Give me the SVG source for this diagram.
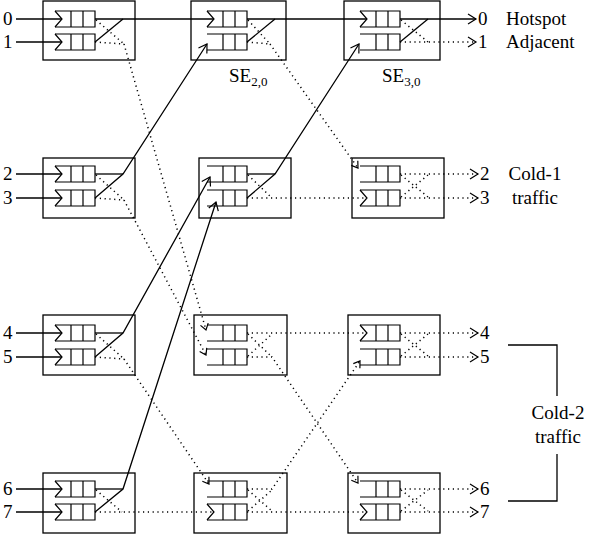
<svg xmlns="http://www.w3.org/2000/svg" xmlns:xlink="http://www.w3.org/1999/xlink" width="598" height="535" viewBox="0 0 598 535">
<style>
.box{fill:none;stroke:#000;stroke-width:1.3}
.q{fill:none;stroke:#000;stroke-width:1.2}
.s{fill:none;stroke:#000;stroke-width:1.3}
.d{fill:none;stroke:#000;stroke-width:1.5;stroke-dasharray:1.2 3.6}
.m{fill:none;stroke:#000;stroke-width:1.2;stroke-dasharray:none}
.t{font-family:'Liberation Serif','Times New Roman',serif;font-size:19px;fill:#000}
.c{text-anchor:middle}
.sub{font-size:13px}
</style>
<defs>
<marker id="chev" markerUnits="userSpaceOnUse" markerWidth="20" markerHeight="20" refX="0" refY="0" orient="auto" overflow="visible"><path class="m" d="M-7,-8 L0,0 L-7,8"/></marker>
<marker id="arr" markerUnits="userSpaceOnUse" markerWidth="20" markerHeight="20" refX="0" refY="0" orient="auto" overflow="visible"><path class="m" d="M-8,-5 L0,0 L-8,5"/></marker>
<marker id="hook" markerUnits="userSpaceOnUse" markerWidth="20" markerHeight="20" refX="0" refY="0" orient="auto" overflow="visible"><path class="m" d="M-6,-4 L0,0 L-6,4"/></marker>
<path id="q" class="q" d="M0,-8 H40 V8 H0 M16,-8 V8 M28,-8 V8"/>
</defs>

<g id="se-1-0"><rect class="box" x="43" y="1" width="92" height="59"/><use href="#q" x="55" y="19"/><use href="#q" x="55" y="42"/></g>
<g id="se-1-1"><rect class="box" x="43" y="158" width="92" height="60"/><use href="#q" x="55" y="174"/><use href="#q" x="55" y="198"/></g>
<g id="se-1-2"><rect class="box" x="43" y="315" width="92" height="60"/><use href="#q" x="55" y="333"/><use href="#q" x="55" y="357"/></g>
<g id="se-1-3"><rect class="box" x="43" y="473" width="92" height="60"/><use href="#q" x="55" y="489"/><use href="#q" x="55" y="512"/></g>

<g id="se-2-0"><rect class="box" x="191" y="1" width="95" height="59"/><use href="#q" x="207" y="19"/><use href="#q" x="207" y="42"/></g>
<g id="se-2-1"><rect class="box" x="199" y="158" width="92" height="60"/><use href="#q" x="207" y="174"/><use href="#q" x="207" y="198"/></g>
<g id="se-2-2"><rect class="box" x="194" y="315" width="93" height="60"/><use href="#q" x="207" y="333"/><use href="#q" x="207" y="357"/></g>
<g id="se-2-3"><rect class="box" x="194" y="473" width="93" height="60"/><use href="#q" x="207" y="489"/><use href="#q" x="207" y="512"/></g>

<g id="se-3-0"><rect class="box" x="344" y="1" width="96" height="59"/><use href="#q" x="360" y="19"/><use href="#q" x="360" y="42"/></g>
<g id="se-3-1"><rect class="box" x="352" y="158" width="92" height="60"/><use href="#q" x="360" y="174"/><use href="#q" x="360" y="198"/></g>
<g id="se-3-2"><rect class="box" x="348" y="315" width="92" height="60"/><use href="#q" x="360" y="333"/><use href="#q" x="360" y="357"/></g>
<g id="se-3-3"><rect class="box" x="348" y="473" width="92" height="60"/><use href="#q" x="360" y="489"/><use href="#q" x="360" y="512"/></g>

<g id="connectors">
<path class="s" marker-end="url(#chev)" d="M16,19 H62"/>
<path class="s" marker-end="url(#chev)" d="M16,42 H62"/>
<path class="s" marker-end="url(#chev)" d="M16,174 H62"/>
<path class="s" marker-end="url(#chev)" d="M16,198 H62"/>
<path class="s" marker-end="url(#chev)" d="M16,333 H62"/>
<path class="s" marker-end="url(#chev)" d="M16,357 H62"/>
<path class="s" marker-end="url(#chev)" d="M16,489 H62"/>
<path class="s" marker-end="url(#chev)" d="M16,512 H62"/>
<path class="s" marker-end="url(#chev)" d="M95,19 H214"/>
<path class="s" d="M95,42 L123,19"/>
<path class="s" d="M95,174 H123"/>
<path class="s" marker-end="url(#arr)" d="M95,198 L123,174 L207,44"/>
<path class="s" d="M95,333 H123"/>
<path class="s" marker-end="url(#arr)" d="M95,357 L123,333 L210,177"/>
<path class="s" d="M95,489 H123"/>
<path class="s" marker-end="url(#arr)" d="M95,512 L123,489 L216,202"/>
<path class="s" marker-end="url(#chev)" d="M247,19 H367"/>
<path class="s" d="M247,42 L275,19"/>
<path class="s" d="M247,174 H275"/>
<path class="s" marker-end="url(#arr)" d="M247,198 L275,174 L359,44"/>
<path class="s" marker-end="url(#arr)" d="M400,19 H476"/>
<path class="s" d="M400,42 L428,19"/>
<path class="d" d="M96,20 L124,44"/>
<path class="d" d="M95,42 L124,44"/>
<path class="d" marker-end="url(#hook)" d="M124,44 L206,330"/>
<path class="d" d="M96,175 L124,200"/>
<path class="d" d="M95,198 L124,200"/>
<path class="d" marker-end="url(#hook)" d="M124,200 L206,355"/>
<path class="d" d="M96,334 L124,359"/>
<path class="d" d="M95,357 L124,359"/>
<path class="d" marker-end="url(#hook)" d="M124,359 L209,484"/>
<path class="d" d="M96,490 L122,512"/>
<path class="d" marker-end="url(#chev)" d="M95,512 H214"/>
<path class="d" d="M248,20 L270,44"/>
<path class="d" d="M247,42 L270,44"/>
<path class="d" marker-end="url(#hook)" d="M270,44 L358,168"/>
<path class="d" d="M248,175 L272,198"/>
<path class="d" marker-end="url(#chev)" d="M247,198 H367"/>
<path class="d" marker-end="url(#chev)" d="M247,333 H367"/>
<path class="d" d="M248,334 L272,357"/>
<path class="d" d="M248,356 L272,334"/>
<path class="d" marker-end="url(#hook)" d="M247,357 H272 L358,483"/>
<path class="d" marker-end="url(#hook)" d="M247,489 H272 L360,361"/>
<path class="d" d="M248,490 L272,511"/>
<path class="d" d="M248,511 L272,490"/>
<path class="d" marker-end="url(#chev)" d="M247,512 H367"/>
<path class="d" d="M401,20 L428,42"/>
<path class="d" marker-end="url(#arr)" d="M400,42 H476"/>
<path class="d" marker-end="url(#arr)" d="M400,174 H478"/>
<path class="d" marker-end="url(#arr)" d="M400,198 H478"/>
<path class="d" d="M401,175 L428,197"/>
<path class="d" d="M401,197 L428,175"/>
<path class="d" marker-end="url(#arr)" d="M400,333 H478"/>
<path class="d" marker-end="url(#arr)" d="M400,357 H478"/>
<path class="d" d="M401,334 L428,356"/>
<path class="d" d="M401,356 L428,334"/>
<path class="d" marker-end="url(#arr)" d="M400,489 H478"/>
<path class="d" marker-end="url(#arr)" d="M400,512 H478"/>
<path class="d" d="M401,490 L428,511"/>
<path class="d" d="M401,511 L428,490"/>
<path class="s" d="M508,345 H557 V396"/>
<path class="s" d="M557,454 V501 H508"/>
</g>

<g id="labels" font-family="Liberation Serif, serif" font-size="19">
<text class="t" x="3" y="25">0</text>
<text class="t" x="3" y="48">1</text>
<text class="t" x="3" y="180">2</text>
<text class="t" x="3" y="204">3</text>
<text class="t" x="3" y="339">4</text>
<text class="t" x="3" y="363">5</text>
<text class="t" x="3" y="495">6</text>
<text class="t" x="3" y="518">7</text>
<text class="t" x="478" y="25">0</text>
<text class="t" x="478" y="48">1</text>
<text class="t" x="480" y="180">2</text>
<text class="t" x="480" y="204">3</text>
<text class="t" x="480" y="339">4</text>
<text class="t" x="480" y="363">5</text>
<text class="t" x="480" y="495">6</text>
<text class="t" x="480" y="518">7</text>
<text class="t" x="506" y="25">Hotspot</text>
<text class="t" x="506" y="48">Adjacent</text>
<text class="t c" x="535" y="180">Cold-1</text>
<text class="t c" x="535" y="204">traffic</text>
<text class="t c" x="558" y="419">Cold-2</text>
<text class="t c" x="558" y="443">traffic</text>
<text class="t" x="229" y="82">SE<tspan class="sub" dy="4">2,0</tspan></text>
<text class="t" x="382" y="82">SE<tspan class="sub" dy="4">3,0</tspan></text>
</g>
</svg>
